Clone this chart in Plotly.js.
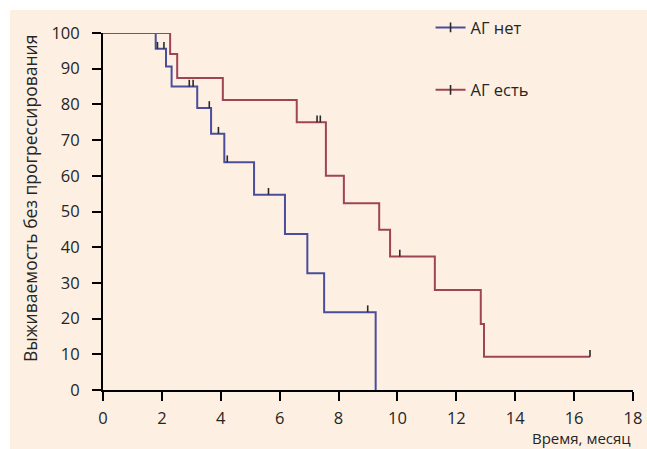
<!DOCTYPE html>
<html>
<head>
<meta charset="utf-8">
<script src="https://cdn.plot.ly/plotly-3.0.1.min.js"></script>
<style>
  html, body { margin: 0; padding: 0; background: #ffffff; }
  #chart { position: absolute; left: 10px; top: 10px; width: 637px; height: 439px; }
</style>
</head>
<body>
<div id="chart"></div>
<script>
// Series labels
const seriesNames = ["АГ нет", "АГ есть"];
const xTitle = "Время, месяц";
const yTitle = "Выживаемость без прогрессирования";

// АГ нет (blue): step times (months) and survival (%)
const noTimes = [0, 1.79, 2.14, 2.33, 3.20, 3.67, 4.12, 5.13, 6.18, 6.94, 7.51, 9.26];
const noSurv  = [100, 95.6, 90.6, 85.0, 79.0, 71.8, 63.8, 54.7, 43.7, 32.7, 21.8, 0];
const noCensor = [1.85, 2.07, 2.93, 3.06, 3.61, 3.92, 4.22, 5.62, 8.99];

// АГ есть (red): step times and survival (%)
const yesTimes = [0, 2.28, 2.52, 4.07, 6.58, 7.57, 8.18, 9.38, 9.75, 11.27, 12.83, 12.94, 16.54];
const yesSurv  = [100, 94.1, 87.4, 81.2, 75.0, 60.0, 52.3, 44.9, 37.4, 28.0, 18.5, 9.3, 9.3];
const yesCensor = [7.27, 7.38, 10.08, 16.54];

// Axis ticks
const xTicks = [0, 2, 4, 6, 8, 10, 12, 14, 16, 18];
const yTicks = [0, 10, 20, 30, 40, 50, 60, 70, 80, 90, 100];

const blue = "#4a4d9c";
const red = "#9e4455";
const tickColor = "#2a2a2a";
const bg = "#fdf0e3";
const txt = "#252525";

function survAt(times, surv, t) {
  let v = surv[0];
  for (let i = 0; i < times.length; i++) {
    if (times[i] <= t) v = surv[i];
  }
  return v;
}

function stepTrace(times, surv, color) {
  return {
    type: "scatter", mode: "lines", x: times, y: surv,
    line: { shape: "hv", color: color, width: 2 },
    showlegend: false, hoverinfo: "skip"
  };
}

function censorTrace(cens, times, surv) {
  const ys = cens.map(t => survAt(times, surv, t));
  return {
    type: "scatter", mode: "markers", x: cens, y: ys,
    marker: { size: 1, opacity: 0 },
    error_y: {
      type: "data", symmetric: false,
      array: cens.map(() => 1.9), arrayminus: cens.map(() => 0),
      width: 0, thickness: 1.6, color: tickColor
    },
    showlegend: false, hoverinfo: "skip"
  };
}

function legendTrace(name, color, group) {
  return {
    type: "scatter", mode: "lines+markers", x: [null], y: [null],
    name: name, legendgroup: group,
    line: { color: color, width: 2 },
    marker: { symbol: "line-ns", size: 7, line: { color: tickColor, width: 1.6 } }
  };
}

const data = [
  stepTrace(noTimes, noSurv, blue),
  stepTrace(yesTimes, yesSurv, red),
  censorTrace(noCensor, noTimes, noSurv),
  censorTrace(yesCensor, yesTimes, yesSurv),
  legendTrace(seriesNames[0], blue, "g1"),
  legendTrace(seriesNames[1], red, "g2")
];

const fontFam = "Open Sans, Noto Sans, sans-serif";
const fs = 16.5;

const layout = {
  width: 637, height: 439,
  margin: { l: 93, r: 14, t: 23, b: 59, autoexpand: false },
  paper_bgcolor: bg, plot_bgcolor: bg,
  font: { family: fontFam, size: fs, color: txt },
  showlegend: true,
  legend: {
    x: 0.618, y: 1.064, xanchor: "left", yanchor: "top",
    bgcolor: "rgba(0,0,0,0)", tracegroupgap: 38,
    traceorder: "grouped",
    font: { family: fontFam, size: fs, color: txt }
  },
  xaxis: {
    range: [0, 18], tickvals: xTicks, ticktext: xTicks.map(String),
    showline: true, linecolor: "#000", linewidth: 2,
    ticks: "outside", ticklen: 9, tickwidth: 2, tickcolor: "#000",
    ticklabelstandoff: 3,
    showgrid: false, zeroline: false,
    tickfont: { family: fontFam, size: fs, color: txt }
  },
  yaxis: {
    range: [0, 100], tickvals: yTicks, ticktext: yTicks.map(String),
    showline: true, linecolor: "#000", linewidth: 2,
    ticks: "outside", ticklen: 9, tickwidth: 2, tickcolor: "#000",
    ticklabelstandoff: 9,
    showgrid: false, zeroline: false,
    tickfont: { family: fontFam, size: fs, color: txt }
  },
  annotations: [
    {
      text: xTitle, xref: "paper", yref: "paper",
      x: 1, y: 0, xanchor: "right", yanchor: "middle", yshift: -47.5,
      showarrow: false, font: { family: fontFam, size: 15, color: txt }
    },
    {
      text: yTitle, xref: "paper", yref: "paper", textangle: -90,
      x: 0, y: 0.535, xanchor: "center", yanchor: "middle", xshift: -73,
      showarrow: false, font: { family: fontFam, size: 17.5, color: txt }
    }
  ]
};

Plotly.newPlot("chart", data, layout, { displayModeBar: false, staticPlot: true });
</script>
</body>
</html>
